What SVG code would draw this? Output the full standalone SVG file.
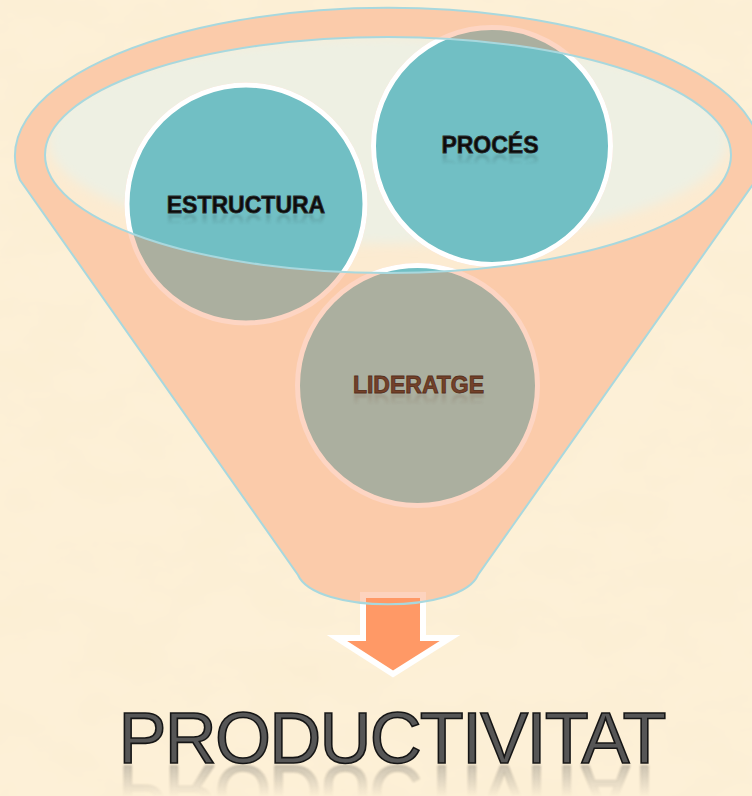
<svg xmlns="http://www.w3.org/2000/svg" width="752" height="796" viewBox="0 0 752 796">
<defs>
<style>
.lbl{font-family:"Liberation Sans",Arial,sans-serif;font-weight:bold;font-size:23px;text-anchor:middle}
.dark{fill:#0b0b0b;stroke:#2b2b2b;stroke-width:0.8}
.brown{fill:#74412a;stroke:#56301c;stroke-width:0.8}
.big{font-family:"Liberation Sans",Arial,sans-serif;font-size:72px;text-anchor:middle;fill:#565656;stroke:#151515;stroke-width:1.6}
.gray{fill:#ABAF9F;stroke:#FDD5C3;stroke-width:5}
.teal{fill:#71BFC4;stroke:#FFFFFF;stroke-width:5}
.outline{fill:none;stroke:#A8D8DE;stroke-width:2}
.refl{opacity:0.2}
</style>
<clipPath id="innerClip"><ellipse cx="388" cy="155" rx="343" ry="118"/></clipPath>
<clipPath id="funnelClip"><path d="M 20 180 A 373 148 0 1 1 756 180 L 478 575 C 461 614 315 614 298 575 Z"/></clipPath>
<filter id="paper" x="0" y="0" width="100%" height="100%" filterUnits="userSpaceOnUse">
<feTurbulence type="fractalNoise" baseFrequency="0.012 0.02" numOctaves="4" seed="7"/>
<feColorMatrix type="matrix" values="0 0 0 0 0.95  0 0 0 0 0.84  0 0 0 0 0.62  0.8 0 0 0 -0.28"/>
</filter>
<filter id="soft" x="-10%" y="-20%" width="120%" height="140%"><feGaussianBlur stdDeviation="6"/></filter>
<filter id="rblur" x="-5%" y="-30%" width="110%" height="160%"><feGaussianBlur stdDeviation="1.3"/></filter>
<linearGradient id="fade" x1="0" y1="0" x2="0" y2="1">
<stop offset="0" stop-color="#fff" stop-opacity="1"/>
<stop offset="1" stop-color="#fff" stop-opacity="0"/>
</linearGradient>
<mask id="mE" maskUnits="userSpaceOnUse" x="130" y="213" width="240" height="16"><rect x="130" y="213" width="240" height="12" fill="url(#fade)"/></mask>
<mask id="mP" maskUnits="userSpaceOnUse" x="420" y="153" width="150" height="16"><rect x="420" y="153" width="150" height="12" fill="url(#fade)"/></mask>
<mask id="mL" maskUnits="userSpaceOnUse" x="330" y="393" width="180" height="16"><rect x="330" y="393" width="180" height="12" fill="url(#fade)"/></mask>
<mask id="mB" maskUnits="userSpaceOnUse" x="100" y="763" width="580" height="34"><rect x="100" y="763" width="580" height="34" fill="url(#fade)"/></mask>
</defs>

<g id="background">
<rect x="0" y="0" width="752" height="796" fill="#FDF0D7"/>
<rect x="0" y="0" width="752" height="796" filter="url(#paper)"/>
</g>

<g id="funnel-body">
<path d="M 20 180 A 373 148 0 1 1 756 180 L 478 575 C 461 614 315 614 298 575 Z" fill="#FBCBAA"/>
<ellipse cx="388" cy="155" rx="343" ry="118" fill="#FCEBD1"/>
<g clip-path="url(#innerClip)">
<ellipse cx="388" cy="140" rx="340" ry="104" fill="#EEF0E3" filter="url(#soft)"/>
</g>
</g>

<g id="node-estructura">
<circle class="gray" cx="246" cy="204" r="119"/>
<g clip-path="url(#innerClip)"><circle class="teal" cx="246" cy="204" r="119"/></g>
<g mask="url(#mE)"><text class="lbl dark refl" x="246" y="213" transform="translate(0,428) scale(1,-1)" filter="url(#rblur)">ESTRUCTURA</text></g>
<text class="lbl dark" x="246" y="213">ESTRUCTURA</text>
</g>

<g id="node-proces">
<circle class="gray" cx="492" cy="146" r="118.5"/>
<g clip-path="url(#innerClip)"><circle class="teal" cx="492" cy="146" r="118.5"/></g>
<g mask="url(#mP)"><text class="lbl dark refl" x="490" y="153" transform="translate(0,308) scale(1,-1)" filter="url(#rblur)">PROCÉS</text></g>
<text class="lbl dark" x="490" y="153">PROCÉS</text>
</g>

<g id="node-lideratge">
<circle class="gray" cx="417.5" cy="385.5" r="120"/>
<g clip-path="url(#innerClip)"><circle class="teal" cx="417.5" cy="385.5" r="120"/></g>
<g mask="url(#mL)"><text class="lbl brown refl" x="418.5" y="393" transform="translate(0,788) scale(1,-1)" filter="url(#rblur)">LIDERATGE</text></g>
<text class="lbl brown" x="418.5" y="393">LIDERATGE</text>
</g>

<g id="connectors">
<polygon points="363,595 423,595 423,638 450,638 393,674 337,638 363,638" fill="#FF9966" stroke="#FFFFFF" stroke-width="6" stroke-linejoin="miter"/>
<g clip-path="url(#funnelClip)">
<polygon points="363,595 423,595 423,638 450,638 393,674 337,638 363,638" fill="#FF9966" stroke="#FDD3BE" stroke-width="6" stroke-linejoin="miter"/>
</g>
</g>

<g id="funnel-outline">
<path class="outline" d="M 20 180 A 373 148 0 1 1 756 180 L 478 575 C 461 614 315 614 298 575 Z"/>
<ellipse class="outline" cx="388" cy="155" rx="343" ry="118" stroke-width="1.6"/>
</g>

<g id="node-productivitat">
<g mask="url(#mB)"><text class="big" x="392.5" y="763" textLength="548" lengthAdjust="spacing" transform="translate(0,1529) scale(1,-1)" opacity="0.3" filter="url(#rblur)">PRODUCTIVITAT</text></g>
<text class="big" x="392.5" y="763" textLength="548" lengthAdjust="spacing">PRODUCTIVITAT</text>
</g>
</svg>
